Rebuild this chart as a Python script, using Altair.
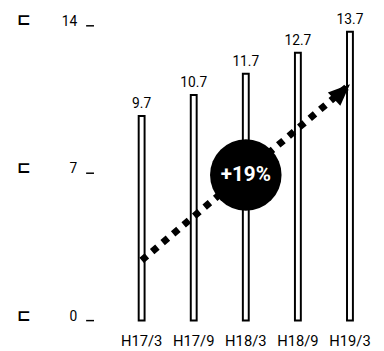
import altair as alt
import pandas as pd

periods = ["H17/3", "H17/9", "H18/3", "H18/9", "H19/3"]
values = [9.7, 10.7, 11.7, 12.7, 13.7]
value_labels = ["9.7", "10.7", "11.7", "12.7", "13.7"]
y_ticks = [0, 7, 14]
arrow_periods = ["H17/3", "H19/3"]
arrow_values = [2.85, 11.2]
badge_period = ["H18/3"]
badge_value = [6.9]
badge_text = ["+19%"]

FONT = "Roboto"

bars_df = pd.DataFrame({"period": periods, "value": values, "label": value_labels})
ticks_df = pd.DataFrame({"value": y_ticks, "g": ["⊏"] * len(y_ticks)})
arrow_df = pd.DataFrame({"period": arrow_periods, "value": arrow_values})
head_df = arrow_df.iloc[[-1]]
badge_df = pd.DataFrame({"period": badge_period, "value": badge_value, "label": badge_text})

x = alt.X(
    "period:N",
    sort=periods,
    scale=alt.Scale(paddingInner=0, paddingOuter=0),
    axis=alt.Axis(
        title=None, labelAngle=0, domain=False, ticks=False,
        labelFont=FONT, labelFontSize=15, labelColor="black",
        labelPadding=25, labelBaseline="alphabetic",
    ),
)
y = alt.Y(
    "value:Q",
    scale=alt.Scale(domain=[0, 14], nice=False),
    axis=alt.Axis(
        title=None, values=y_ticks, domain=False, grid=False,
        tickSize=8, tickWidth=1.5, tickColor="black", offset=22.5,
        labelPadding=9, labelFont=FONT, labelFontSize=14,
        labelBaseline="alphabetic", labelColor="black",
    ),
)

bars = alt.Chart(bars_df).mark_bar(size=6, fill="white", stroke="black", strokeWidth=2).encode(x=x, y=y)
labels = alt.Chart(bars_df).mark_text(
    dy=-8, baseline="alphabetic", font=FONT, fontSize=14, color="black"
).encode(x=x, y=y, text="label:N")
glyphs = alt.Chart(ticks_df).mark_text(
    baseline="alphabetic", font="DejaVu Sans", fontWeight="bold", fontSize=17, color="black"
).encode(x=alt.value(-93.5), y=y, text="g:N")
line = alt.Chart(arrow_df).mark_line(
    strokeDash=[7, 7], strokeWidth=7, color="black", strokeCap="butt"
).encode(x=x, y=y)
head = alt.Chart(head_df).mark_point(
    shape="M0,0 L-0.42,1 L0.42,1 Z", filled=True, color="black", opacity=1,
    size=1950, angle=47,
).encode(x=x, y=y)
circle = alt.Chart(badge_df).mark_point(
    shape="circle", filled=True, color="black", opacity=1, size=5300
).encode(x=x, y=y)
badge = alt.Chart(badge_df).mark_text(
    color="white", font=FONT, fontWeight="bold", fontSize=21, baseline="middle"
).encode(x=x, y=y, text="label:N")

chart = alt.layer(bars, labels, glyphs, line, head, circle, badge).properties(
    width=265, height=300.4,
    padding={"left": 109.5, "top": 14.6, "right": 0, "bottom": 28},
    autosize=alt.AutoSizeParams(type="none"),
).configure_view(stroke=None)

chart.save("out.html", embed_options={"renderer": "svg", "actions": False})
